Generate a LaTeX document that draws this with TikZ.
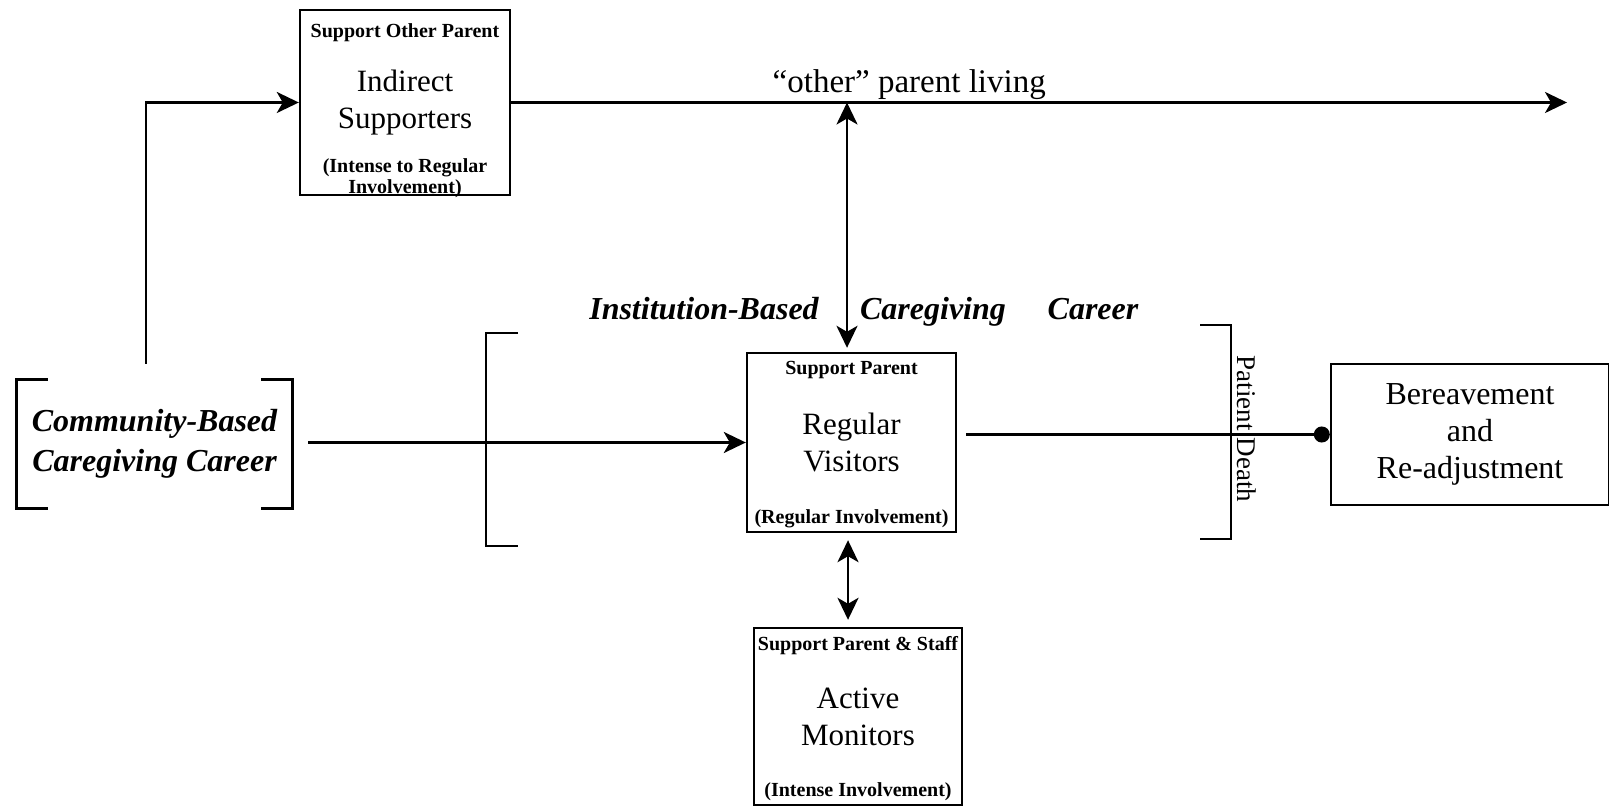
\documentclass[tikz,border=0pt]{standalone}
\usepackage{fontspec}
\setmainfont{Liberation Serif}
\usetikzlibrary{positioning, arrows.meta}

\begin{document}
\begin{tikzpicture}[x=0.5pt, y=-0.5pt, on grid,
    caixa/.style={draw, line width=1.2pt, align=center, font=\fontsize{15.5}{18.5}\selectfont},
    rotulo/.style={font=\fontsize{10}{10.5}\selectfont\bfseries, align=center, inner sep=0pt, anchor=center},
    carreira/.style={font=\fontsize{16}{20}\selectfont\bfseries\itshape, align=center},
    seta/.style={line width=1.3pt, -{Stealth[length=11pt, width=10.5pt, inset=3pt]}},
    dupla/.style={line width=1.3pt, {Stealth[length=11pt, width=10.5pt, inset=3pt]}-{Stealth[length=11pt, width=10.5pt, inset=3pt]}},
    bolinha/.style={line width=1.3pt, -{Circle[length=8pt]}},
    colchete/.style={line width=1.2pt}]
   \useasboundingbox (0,0) rectangle (1609,806);

   % Caixas
   \node[caixa, minimum width=104.5pt, minimum height=89.5pt,
         label={[rotulo, yshift=-9.25pt]north:Support Parent},
         label={[rotulo, yshift=7.2pt]south:{(Regular Involvement)}}]
         (regulares) at (851.5,442.5) {Regular\\Visitors};
   \node[caixa, minimum width=105pt, minimum height=92.5pt,
         label={[rotulo, yshift=-11.8pt]north:Support Other Parent},
         label={[rotulo, yshift=9pt]south:{(Intense to Regular\\Involvement)}}]
         (indiretos) [above left=170pt and 223.25pt of regulares] {Indirect\\Supporters};
   \node[caixa, minimum width=104pt, minimum height=88.5pt,
         label={[rotulo, yshift=-9.25pt]north:Support Parent \& Staff},
         label={[rotulo, yshift=7.2pt]south:{(Intense Involvement)}}]
         (ativos) [below right=137pt and 3.25pt of regulares] {Active\\Monitors};
   \node[caixa, minimum width=139pt, minimum height=70.5pt, font=\fontsize{16}{18.7}\selectfont]
         (luto) [above right=4pt and 309.25pt of regulares] {Bereavement\\and\\Re-adjustment};

   % Carreiras
   \node[carreira, minimum width=137.5pt, minimum height=64pt] (comunidade) at (154.5,444)
         {Community-Based\\Caregiving Career};
   \node[carreira, anchor=base] (instituicao) at (704,320) {Institution-Based};
   \node[carreira, anchor=base] (cuidado) at (933,320) {Caregiving};
   \node[carreira, anchor=base] (carreira) at (1093,320) {Career};
   \node[rotate=-90, inner sep=0pt, font=\fontsize{13.5}{15}\selectfont] (morte) at (1247,429) {Patient Death};

   % Colchetes
   \draw[colchete] ([xshift=15.5pt]comunidade.north west) -| (comunidade.south west) -- ++(15.5pt,0);
   \draw[colchete] ([xshift=-15.5pt]comunidade.north east) -| (comunidade.south east) -- ++(-15.5pt,0);
   \draw[colchete] (518,333) -- (486,333) -- (486,546) -- (518,546);
   \draw[colchete] (1200,325) -- (1231,325) -- (1231,539) -- (1200,539);

   % Ligacoes
   \coordinate (subida) at (146,364);
   \coordinate (saida) at ([xshift=8pt]comunidade.east);
   \coordinate (fimvida) at (1567,102.5);
   \coordinate (topo) at ([xshift=-2.25pt]regulares.north);
   \coordinate (base) at ([xshift=-1.75pt]regulares.south);
   \coordinate (direita) at ([xshift=4.5pt]regulares.east);

   \draw[seta] (subida) |- (indiretos.west);
   \draw[seta] (saida |- regulares.west) -- (regulares.west);
   \draw[seta] (indiretos.east) -- (fimvida)
         node[pos=0.377, above, inner sep=1pt, font=\fontsize{16.5}{18}\selectfont] (outro) {“other” parent living};
   \draw[dupla, shorten <=2pt] (topo) -- (topo |- fimvida);
   \draw[dupla, shorten <=3.5pt, shorten >=3.5pt] (base) -- (base |- ativos.north);
   \draw[bolinha] (direita |- luto.west) -- (luto.west);
\end{tikzpicture}
\end{document}
